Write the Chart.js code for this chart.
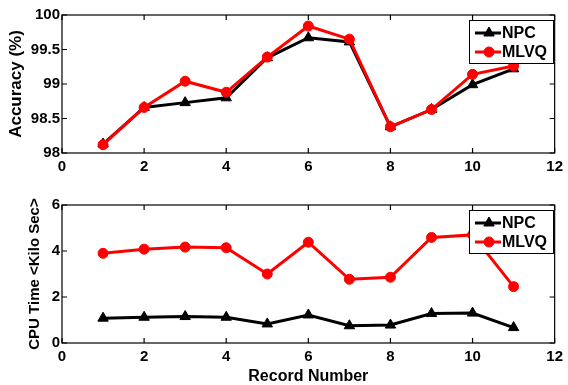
<!DOCTYPE html>
<html lang="en">
<head>
<meta charset="UTF-8">
<title>Accuracy and CPU Time per Record</title>
<script src="https://cdn.jsdelivr.net/npm/chart.js@4.4.0/dist/chart.umd.min.js"></script>
<style>
    body { margin: 0; background: #fff; }
    #wrap { position: relative; width: 568px; height: 385px; }
    canvas { position: absolute; left: 0; }
    #accChart { top: 0; }
    #cpuChart { top: 190px; }
</style>
</head>
<body>
<div id="wrap">
    <canvas id="accChart" width="568" height="190"></canvas>
    <canvas id="cpuChart" width="568" height="195"></canvas>
</div>
<script>
const records = [1, 2, 3, 4, 5, 6, 7, 8, 9, 10, 11];
const accNPC  = [98.13, 98.66, 98.73, 98.80, 99.38, 99.67, 99.61, 98.38, 98.63, 98.99, 99.22];
const accMLVQ = [98.12, 98.66, 99.04, 98.88, 99.39, 99.84, 99.65, 98.38, 98.63, 99.14, 99.26];
const cpuNPC  = [1.08, 1.12, 1.15, 1.12, 0.83, 1.22, 0.75, 0.78, 1.28, 1.30, 0.67];
const cpuMLVQ = [3.90, 4.08, 4.17, 4.14, 3.00, 4.38, 2.77, 2.86, 4.59, 4.70, 2.45];
const seriesNames = ['NPC', 'MLVQ'];

const FONT = 'Arial, "Liberation Sans", sans-serif';
Chart.defaults.color = '#000';
Chart.defaults.font.family = FONT;
Chart.defaults.font.weight = 'bold';

function points(ys) {
    return records.map((x, i) => ({ x: x, y: ys[i] }));
}

// tick text like 100, 99.5, 99 (no trailing zeros)
function plainTick(v) {
    return String(Number(v.toFixed(2)));
}

// box around the plot, inward ticks on all four sides, and a boxed legend
const matFrame = {
    id: 'matFrame',
    afterDraw(chart) {
        const ctx = chart.ctx;
        const a = chart.chartArea;
        const xs = chart.scales.x, ys = chart.scales.y;
        const len = 5;
        ctx.save();
        ctx.strokeStyle = '#000';
        ctx.lineWidth = 1.2;
        ctx.strokeRect(a.left, a.top, a.right - a.left, a.bottom - a.top);
        ctx.beginPath();
        xs.ticks.forEach(t => {
            const px = xs.getPixelForValue(t.value);
            ctx.moveTo(px, a.bottom); ctx.lineTo(px, a.bottom - len);
            ctx.moveTo(px, a.top); ctx.lineTo(px, a.top + len);
        });
        ys.ticks.forEach(t => {
            const py = ys.getPixelForValue(t.value);
            ctx.moveTo(a.left, py); ctx.lineTo(a.left + len, py);
            ctx.moveTo(a.right, py); ctx.lineTo(a.right - len, py);
        });
        ctx.stroke();

        // legend
        const bx = 469, by = 20, bw = 84, bh = 43;
        ctx.fillStyle = '#fff';
        ctx.fillRect(bx, by, bw, bh);
        ctx.lineWidth = 1;
        ctx.strokeStyle = '#000';
        ctx.strokeRect(bx + 0.5, by + 0.5, bw, bh);
        chart.data.datasets.forEach((ds, i) => {
            const ly = by + 13 + i * 19;
            ctx.strokeStyle = ds.borderColor;
            ctx.lineWidth = 3;
            ctx.beginPath();
            ctx.moveTo(bx + 6, ly);
            ctx.lineTo(bx + 32, ly);
            ctx.stroke();
            ctx.fillStyle = ds.backgroundColor;
            ctx.lineWidth = 1;
            Chart.helpers.drawPoint(ctx, {
                pointStyle: ds.pointStyle,
                radius: ds.pointRadius,
                borderWidth: 1
            }, bx + 20, ly);
            ctx.fillStyle = '#000';
            ctx.font = 'bold 16px ' + FONT;
            ctx.textBaseline = 'middle';
            ctx.textAlign = 'left';
            ctx.fillText(ds.label, bx + 33, ly + 1);
        });
        ctx.restore();
    }
};

function makeChart(id, npc, mlvq, yOpts, yTitle, xTitle) {
    const ctx = document.getElementById(id).getContext('2d');
    return new Chart(ctx, {
        type: 'line',
        data: {
            datasets: [
                {
                    label: seriesNames[0],
                    data: points(npc),
                    borderColor: '#000000',
                    backgroundColor: '#000000',
                    borderWidth: 3,
                    pointStyle: 'triangle',
                    pointRadius: 6,
                    pointBorderWidth: 1,
                    order: 1,
                    clip: false
                },
                {
                    label: seriesNames[1],
                    data: points(mlvq),
                    borderColor: '#ff0000',
                    backgroundColor: '#ff0000',
                    borderWidth: 3,
                    pointStyle: 'circle',
                    pointRadius: 5,
                    pointBorderWidth: 1,
                    order: 0,
                    clip: false
                }
            ]
        },
        options: {
            responsive: false,
            animation: false,
            layout: { padding: { left: 0, right: 12, top: 15, bottom: 0 } },
            plugins: { legend: { display: false }, tooltip: { enabled: false } },
            scales: {
                x: {
                    type: 'linear',
                    min: 0, max: 12,
                    ticks: { stepSize: 2, padding: 5, font: { size: 15, weight: 'bold' } },
                    grid: { display: false, drawTicks: false },
                    border: { display: false },
                    title: xTitle,
                    afterFit: s => { s.height = id === 'accChart' ? 37 : 42; }
                },
                y: {
                    min: yOpts.min, max: yOpts.max,
                    ticks: {
                        stepSize: yOpts.step, padding: 2,
                        font: { size: 15, weight: 'bold' },
                        callback: plainTick
                    },
                    grid: { display: false, drawTicks: false },
                    border: { display: false },
                    title: yTitle,
                    afterFit: s => { s.width = 62; }
                }
            }
        },
        plugins: [matFrame]
    });
}

makeChart('accChart', accNPC, accMLVQ, { min: 98, max: 100, step: 0.5 },
    { display: true, text: 'Accuracy (%)', font: { size: 17, weight: 'bold' }, padding: { top: 6, bottom: 0 } },
    { display: false });

makeChart('cpuChart', cpuNPC, cpuMLVQ, { min: 0, max: 6, step: 2 },
    { display: true, text: 'CPU Time <Kilo Sec>', font: { size: 15, weight: 'bold' }, padding: { top: 26, bottom: 0 } },
    { display: true, text: 'Record Number', font: { size: 16, weight: 'bold' }, padding: { top: 0, bottom: -1 } });
</script>
</body>
</html>
